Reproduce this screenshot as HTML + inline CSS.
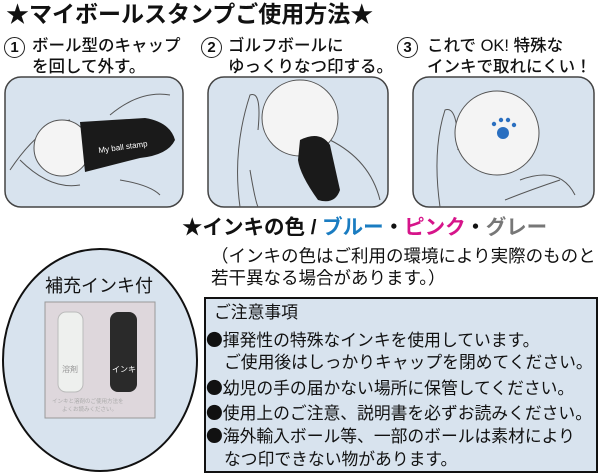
<!DOCTYPE html>
<html><head><meta charset="utf-8"><style>
body{margin:0;width:600px;height:474px;background:#fff;position:relative;overflow:hidden;font-family:"Liberation Sans","Noto Sans CJK JP",sans-serif;color:#111}
.a{position:absolute;white-space:nowrap;line-height:1}
.num{position:absolute;width:19px;height:19px;border:1.5px solid #222;border-radius:50%;font-size:15px;font-weight:bold;text-align:center;line-height:19px}
.st{font-size:16.5px;font-weight:500}
.nt{font-size:16.8px}
.b{font-family:"Noto Sans CJK JP",sans-serif}
</style></head><body>
<div class="a" style="left:6px;top:3px;font-size:23px;font-weight:bold">★マイボールスタンプご使用方法★</div>

<div class="num" style="left:4px;top:37px">1</div>
<div class="a st" style="left:32px;top:38px">ボール型のキャップ</div>
<div class="a st" style="left:32px;top:59px">を回して外す。</div>
<div class="num" style="left:201px;top:37px">2</div>
<div class="a st" style="left:228px;top:38px">ゴルフボールに</div>
<div class="a st" style="left:228px;top:59px">ゆっくりなつ印する。</div>
<div class="num" style="left:397px;top:37px">3</div>
<div class="a st" style="left:427px;top:38px">これで OK! 特殊な</div>
<div class="a st" style="left:427px;top:59px">インキで取れにくい！</div>

<svg width="600" height="474" style="position:absolute;left:0;top:0">
<g stroke="#444" stroke-width="1.5">
<rect x="5" y="77" width="178" height="130" rx="16" fill="#d8e3ee"/>
<rect x="208" y="77" width="180" height="130" rx="16" fill="#d8e3ee"/>
<rect x="413" y="77" width="181" height="130" rx="16" fill="#d8e3ee"/>
</g>
<g fill="none" stroke="#555" stroke-width="1">
<path d="M10 170 Q40 125 70 120 M110 115 Q140 90 170 95 M120 180 Q150 185 160 195 M20 160 Q50 190 80 185"/>
<path d="M240 207 Q232 150 250 95 Q262 90 258 130 M330 140 Q370 160 380 200 M250 170 Q255 200 258 207"/>
<path d="M440 207 Q432 150 445 110 Q458 105 458 150 M520 180 Q560 165 575 195 M505 200 Q530 190 560 180"/>
</g>
<circle cx="62" cy="148" r="28" fill="#f4f4f4" stroke="#555"/>
<path d="M80 122 L145 118 Q170 122 175 140 Q168 155 140 158 L85 172 Z" fill="#1a1a1a"/>
<text x="98" y="150" font-size="8" fill="#fff" font-family="Liberation Sans" transform="rotate(-8 120 145)">My ball stamp</text>
<circle cx="300" cy="118" r="38" fill="#f4f4f4" stroke="#555"/>
<path d="M300 140 Q320 130 330 145 L340 190 Q335 205 318 200 Q300 175 298 160 Z" fill="#1a1a1a"/>
<circle cx="497" cy="133" r="42" fill="#f4f4f4" stroke="#555"/>
<g fill="#2a6fc0"><circle cx="503" cy="133" r="6"/><circle cx="494" cy="124" r="2.2"/><circle cx="501" cy="120" r="2.2"/><circle cx="508" cy="120" r="2.2"/><circle cx="514" cy="125" r="2.2"/></g>
<ellipse cx="100" cy="360" rx="97" ry="111" fill="#d8e3ee" stroke="#111" stroke-width="2"/>
<rect x="45" y="302" width="110" height="116" fill="#ded7dc" stroke="#999"/>
<rect x="58" y="312" width="25" height="80" rx="8" fill="#eef0ee" stroke="#bbb"/>
<rect x="110" y="312" width="27" height="80" rx="8" fill="#2a2a2a"/>
<text x="62" y="372" font-size="8" fill="#999" font-family="Noto Sans CJK JP">溶剤</text>
<text x="112" y="372" font-size="8" fill="#fff" font-family="Noto Sans CJK JP">インキ</text>
<text x="52" y="403" font-size="5.5" fill="#aaa" font-family="Noto Sans CJK JP">インキと溶剤のご使用方法を</text>
<text x="62" y="411" font-size="5.5" fill="#aaa" font-family="Noto Sans CJK JP">よくお読みください。</text>
<rect x="205" y="298" width="392" height="174" fill="#d8e3ee" stroke="#111" stroke-width="2"/>
</svg>
<div class="a" style="left:45px;top:277px;font-size:18px">補充インキ付</div>

<div class="a" style="left:182px;top:218px;font-size:20.5px;font-weight:bold">★インキの色 / <span style="color:#1a7cc1">ブルー</span>・<span style="color:#d6148a">ピンク</span>・<span style="color:#777">グレー</span></div>
<div class="a" style="left:211px;top:248px;font-size:17.5px">（インキの色はご利用の環境により実際のものと</div>
<div class="a" style="left:211px;top:270px;font-size:17.5px">若干異なる場合があります。）</div>

<div class="a nt" style="left:214px;top:305px">ご注意事項</div>
<div class="a nt" style="left:206px;top:331px"><span class="b">●</span>揮発性の特殊なインキを使用しています。</div>
<div class="a nt" style="left:224px;top:355px">ご使用後はしっかりキャップを閉めてください。</div>
<div class="a nt" style="left:206px;top:379px"><span class="b">●</span>幼児の手の届かない場所に保管してください。</div>
<div class="a nt" style="left:206px;top:404px"><span class="b">●</span>使用上のご注意、説明書を必ずお読みください。</div>
<div class="a nt" style="left:206px;top:427px"><span class="b">●</span>海外輸入ボール等、一部のボールは素材により</div>
<div class="a nt" style="left:224px;top:452px">なつ印できない物があります。</div>
</body></html>
